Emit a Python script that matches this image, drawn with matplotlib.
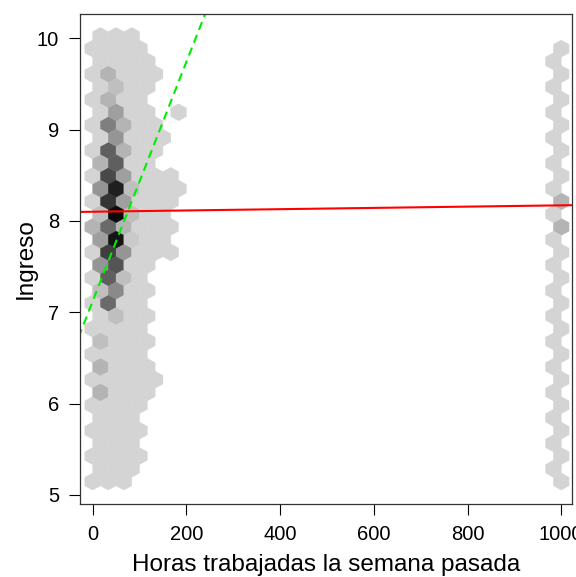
import numpy as np
import matplotlib
matplotlib.use("Agg")
import matplotlib.pyplot as plt
from matplotlib.colors import LinearSegmentedColormap

plt.rcParams['font.family'] = ['Liberation Sans', 'DejaVu Sans']

# hexbin counts, one list per hex row from the bottom (row 0) up
# even rows sit on x = 0, 33.3, 66.7 ...; odd rows are shifted half a cell
cuentas_filas = [
    [1, 1, 1],
    [1, 1, 1],
    [1, 1, 1, 1],
    [1, 1, 1],
    [1, 1, 1, 1],
    [1, 1, 1],
    [1, 1, 1, 1],
    [4, 1, 1, 1],
    [1, 1, 1, 1, 1],
    [4, 1, 1, 1],
    [1, 1, 1, 1],
    [3, 1, 1, 1],
    [1, 1, 1, 1],
    [1, 3, 1, 1],
    [1, 11, 1, 1],
    [3, 8, 1, 1],
    [1, 12, 3, 1],
    [7, 13, 1, 1],
    [1, 15, 7, 1, 1, 1],
    [6, 19, 2, 1, 1],
    [4, 11, 4, 1, 1, 1],
    [3, 20, 3, 1, 1],
    [1, 16, 6, 1, 1, 1],
    [7, 18, 3, 1, 1, 1],
    [1, 14, 6, 1, 1, 1],
    [4, 12, 1, 1],
    [1, 12, 4, 1, 1],
    [1, 7, 1, 1, 1],
    [1, 9, 4, 1, 1],
    [1, 6, 1, 1, 0, 1],
    [1, 4, 1, 1],
    [1, 3, 1, 1],
    [1, 4, 1, 1, 1],
    [1, 1, 1, 1],
    [1, 1, 1, 1],
    [1, 1, 1],
]

# the column of people reporting ~1000 hours, rows 0..34
cuentas_1000 = [1, 1, 1, 1, 1, 1, 1, 1, 1, 1,
                1, 1, 1, 1, 1, 1, 1, 1, 1, 1,
                4, 1, 4, 1, 1, 1, 1, 1, 1, 1,
                1, 1, 1, 1, 1]

# regression lines
ols_int, ols_pend = 8.10, 7.0e-5      # red, solid
sub_int, sub_pend = 7.12, 0.0131      # green, dashed

ancho = 1000 / 30      # hex width in hours
paso = 0.1394          # vertical distance between hex rows
y0 = 5.146

xs, ys, cs = [], [], []
for r, fila in enumerate(cuentas_filas):
    desp = 0.5 * (r % 2)
    for k, c in enumerate(fila):
        if c > 0:
            xs.append((k + desp) * ancho)
            ys.append(y0 + r * paso)
            cs.append(c)
for r, c in enumerate(cuentas_1000):
    k = 30 if r % 2 == 0 else 29.5
    xs.append(k * ancho)
    ys.append(y0 + r * paso)
    cs.append(c)

grises = LinearSegmentedColormap.from_list('grises', ['#d4d4d4', '#0a0a0a'])

fig = plt.figure(figsize=(5.76, 5.77), dpi=100)
ax = fig.add_axes([80/576, 1 - 504/577, 492/576, 490/577])

ax.hexbin(xs, ys, C=cs, reduce_C_function=np.sum, gridsize=(30, 18),
          extent=(0, 1000, y0, y0 + 18 * 2 * paso), cmap=grises,
          vmin=1, vmax=20, linewidths=0.3, edgecolors='face')

xl = np.array([-30, 1030])
ax.plot(xl, ols_int + ols_pend * xl, color='#ff0000', lw=1.5)
ax.plot(xl, sub_int + sub_pend * xl, color='#00ee00', lw=1.5, dashes=(4, 2.6))

ax.set_xlim(-27, 1023)
ax.set_ylim(4.90, 10.265)
ax.set_xticks([0, 200, 400, 600, 800, 1000])
ax.set_yticks([5, 6, 7, 8, 9, 10])
ax.tick_params(direction='out', length=8, width=0.8, labelsize=14.5)
ax.tick_params(axis='y', pad=7)
ax.tick_params(axis='x', pad=7)
for s in ax.spines.values():
    s.set_linewidth(0.9)
    s.set_color('#333333')

ax.set_xlabel('Horas trabajadas la semana pasada', fontsize=17.5, labelpad=7)
ax.set_ylabel('Ingreso', fontsize=17.5, labelpad=0)

fig.savefig('out.png', dpi=100, facecolor='white')
